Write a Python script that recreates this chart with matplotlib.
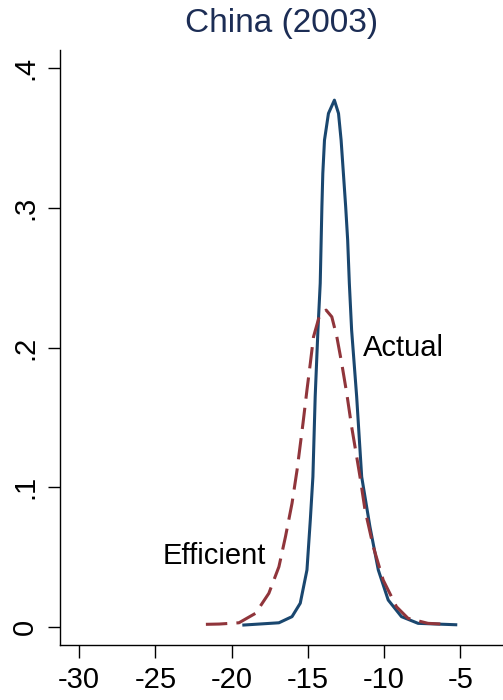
import matplotlib
matplotlib.use("Agg")
import matplotlib.pyplot as plt

plt.rcParams["font.family"] = ["Liberation Sans", "DejaVu Sans"]
plt.rcParams["axes.unicode_minus"] = False

# Density curves
actual_x = [-19.2, -16.9, -16.04, -15.5, -15.06, -14.84, -14.67, -14.52, -14.34,
            -14.19, -14.08, -14.02, -13.91, -13.65, -13.26, -12.99, -12.82,
            -12.67, -12.52, -12.39, -12.28, -12.13, -11.8, -11.47, -10.93,
            -10.38, -9.73, -8.86, -7.77, -5.3]
actual_y = [0.0014, 0.003, 0.0074, 0.017, 0.0408, 0.0766, 0.1075, 0.165, 0.2125,
            0.246, 0.3008, 0.3247, 0.3485, 0.3676, 0.3771, 0.3676, 0.3485,
            0.3247, 0.3008, 0.277, 0.246, 0.2125, 0.165, 0.1075, 0.0718,
            0.0408, 0.0193, 0.0074, 0.0026, 0.0016]

efficient_x = [-21.69, -20.82, -19.52, -18.43, -17.56, -16.9, -16.47, -16.04,
               -15.71, -15.32, -15.06, -14.84, -14.63, -14.26, -13.8, -13.43,
               -13.1, -12.78, -12.45, -12.13, -11.8, -11.58, -11.25, -10.71,
               -10.06, -9.19, -8.43, -7.12, -5.82]
efficient_y = [0.0019, 0.0021, 0.003, 0.0098, 0.0241, 0.0431, 0.0646, 0.0885,
               0.1123, 0.1458, 0.1696, 0.1887, 0.2077, 0.222, 0.2268, 0.222,
               0.2077, 0.1887, 0.1672, 0.1434, 0.122, 0.1075, 0.0837, 0.0575,
               0.0336, 0.0145, 0.0062, 0.0026, 0.0019]

xticks = [-30, -25, -20, -15, -10, -5]
yticks = [0, 0.1, 0.2, 0.3, 0.4]
ytick_labels = ["0", ".1", ".2", ".3", ".4"]

navy = "#1a476f"
maroon = "#90353b"

fig = plt.figure(figsize=(5.03, 7.0), dpi=100)
ax = fig.add_axes([60 / 503, 55 / 700, 443 / 503, 595 / 700])

ax.plot(actual_x, actual_y, color=navy, lw=2.2, solid_joinstyle="round")
ax.plot(efficient_x, efficient_y, color=maroon, lw=2.2, dashes=(7, 3),
        dash_joinstyle="round")

ax.text(-11.36, 0.1996, "Actual", fontsize=21, va="center", ha="left")
ax.text(-24.54, 0.0508, "Efficient", fontsize=21, va="center", ha="left")

ax.set_xlim(-31.26, -2.2)
ax.set_ylim(-0.0129, 0.413)
ax.set_xticks(xticks)
ax.set_xticklabels([str(t) for t in xticks])
ax.set_yticks(yticks)
ax.set_yticklabels(ytick_labels, rotation=90, va="center")

for side in ["top", "right"]:
    ax.spines[side].set_visible(False)
for side in ["left", "bottom"]:
    ax.spines[side].set_linewidth(1.0)

ax.tick_params(axis="both", length=9, width=1.0, labelsize=21, pad=6)

ax.set_title("China (2003)", fontsize=24, color="#1c2d55", pad=13)

fig.savefig("out.png", dpi=100)
